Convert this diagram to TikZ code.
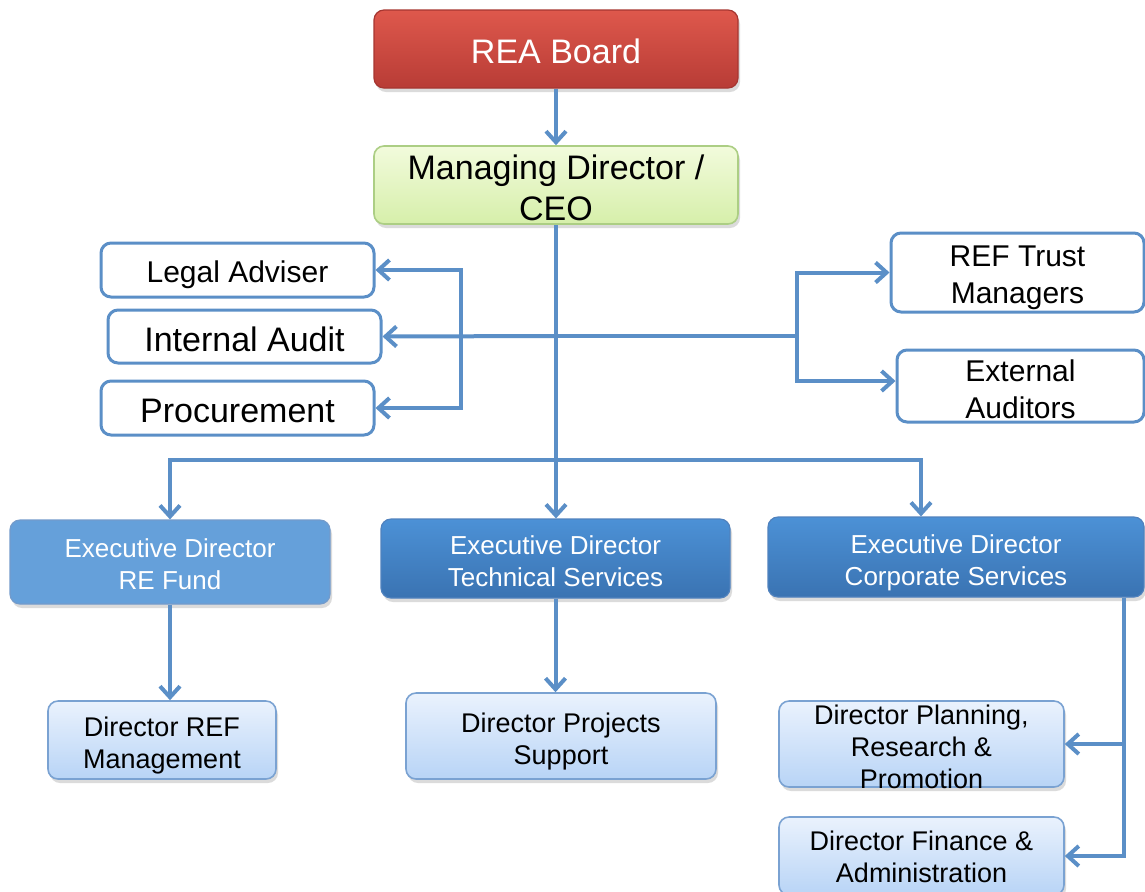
\documentclass[tikz,border=0pt]{standalone}
\usepackage{fontspec}
\setmainfont{Liberation Sans}
\usetikzlibrary{arrows.meta,shadows}
\definecolor{lineblue}{RGB}{91,143,199}
\definecolor{redtop}{RGB}{222,88,76}
\definecolor{redbot}{RGB}{184,60,54}
\definecolor{grntop}{RGB}{242,251,220}
\definecolor{grnbot}{RGB}{214,239,170}
\definecolor{grnline}{RGB}{172,206,132}
\definecolor{edlight}{RGB}{101,160,218}
\definecolor{edtop}{RGB}{76,145,214}
\definecolor{edbot}{RGB}{58,115,178}
\definecolor{edline}{RGB}{80,130,190}
\definecolor{lbtop}{RGB}{234,242,253}
\definecolor{lbbot}{RGB}{184,212,246}
\definecolor{lbline}{RGB}{122,162,210}
\tikzset{
  base/.style={rounded corners=5pt, inner sep=0pt},
  shad/.style={drop shadow={opacity=0.28, shadow xshift=1pt, shadow yshift=-2pt}},
  redbox/.style={base, shad, top color=redtop, bottom color=redbot, draw=redbot!90!black, line width=0.6pt},
  grnbox/.style={base, shad, top color=grntop, bottom color=grnbot, draw=grnline, line width=0.8pt},
  wbox/.style={base, fill=white, draw=lineblue, line width=1.5pt},
  edbox/.style={base, shad, top color=edtop, bottom color=edbot, draw=edline, line width=0.6pt},
  edfbox/.style={base, shad, fill=edlight, draw=edline!80, line width=0.6pt},
  lbbox/.style={base, shad, top color=lbtop, bottom color=lbbot, draw=lbline, line width=0.8pt},
  lb/.style={align=center, inner sep=0pt},
  wt/.style={lb, text=white},
  fbig/.style={font=\fontsize{17}{20.5}\selectfont},
  fmid/.style={font=\fontsize{15}{18.5}\selectfont},
  fed/.style={font=\fontsize{13}{16}\selectfont},
  flow/.style={font=\fontsize{13.5}{16}\selectfont},
  line/.style={draw=lineblue, line width=2pt},
  conn/.style={line, -{Straight Barb[length=5.5pt,width=10pt]}},
}
\begin{document}
\begin{tikzpicture}[x={(0.5pt,0)}, y={(0,-0.5pt)}]
\useasboundingbox (0,0) rectangle (1145,891);
\clip (0,0) rectangle (1145,891);
\fill[white] (0,0) rectangle (1145,891);

% nodes
\node[redbox, minimum width=182pt, minimum height=39pt,
  label={[wt, fbig, yshift=-1pt]center:{REA Board}}] (rea) at (556,49) {};
\node[grnbox, minimum width=182pt, minimum height=39pt,
  label={[lb, fbig, yshift=-1.5pt]center:{Managing Director /\\CEO}}] (md) at (556,185) {};

\node[wbox, minimum width=136.5pt, minimum height=27pt,
  label={[lb, fmid, yshift=-2.5pt]center:{Legal Adviser}}] (la) at (237.5,270) {};
\node[wbox, minimum width=136.5pt, minimum height=26.5pt,
  label={[lb, fbig, yshift=-1.5pt]center:{Internal Audit}}] (ia) at (244.5,336.5) {};
\node[wbox, minimum width=136.5pt, minimum height=27pt,
  label={[lb, fbig, yshift=-1.5pt]center:{Procurement}}] (pr) at (237.5,408) {};

\node[wbox, minimum width=126.5pt, minimum height=39.5pt,
  label={[lb, fmid, yshift=-2.5pt]center:{REF Trust\\Managers}}] (rt) at (1017.5,272.5) {};
\node[wbox, minimum width=123.5pt, minimum height=36pt,
  label={[lb, fmid, yshift=-1.5pt]center:{External\\Auditors}}] (ea) at (1020.5,386) {};

\node[edfbox, minimum width=160pt, minimum height=42pt,
  label={[wt, fed, yshift=-1.2pt]center:{Executive Director\\RE Fund}}] (edf) at (170,562) {};
\node[edbox, minimum width=174.5pt, minimum height=39.5pt,
  label={[wt, fed, yshift=-1.5pt]center:{Executive Director\\Technical Services}}] (edt) at (555.5,558.5) {};
\node[edbox, minimum width=188pt, minimum height=40pt,
  label={[wt, fed, yshift=-3pt]center:{Executive Director\\Corporate Services}}] (edc) at (956,557) {};

\node[lbbox, minimum width=114pt, minimum height=39pt,
  label={[lb, flow, yshift=-2.5pt]center:{Director REF\\Management}}] (drm) at (162,740) {};
\node[lbbox, minimum width=155pt, minimum height=43pt,
  label={[lb, flow, yshift=-2.7pt]center:{Director Projects\\Support}}] (dps) at (561,736) {};
\node[lbbox, minimum width=142.5pt, minimum height=43pt,
  label={[lb, flow, yshift=-1.5pt]center:{Director Planning,\\Research \&\\Promotion}}] (plan) at (921.5,744) {};
\node[lbbox, minimum width=142.5pt, minimum height=39pt,
  label={[lb, flow, yshift=-0.5pt]center:{Director Finance \&\\Administration}}] (fin) at (921.5,856) {};

% junction points
\coordinate (busC) at (556,460);
\coordinate (busR) at (921,460);
\coordinate (hub) at (556,336);
\coordinate (brL) at (461,336);
\coordinate (brR) at (797,336);
\coordinate (csx) at (1124,597);

% connectors
\draw[conn] (rea.south) -- (md.north);
\draw[conn] (md.south) -- (md.south |- edt.north);
\draw[conn] (busC) -| (edf.north);
\draw[conn] (busC) -- (busR) -- (busR |- edc.north);
\draw[conn] (hub) -- (ia.east);
\draw[conn] (brL) |- (la.east);
\draw[conn] (brL) |- (pr.east);
\draw[line] (hub) -- (brR);
\draw[conn] (brR) |- (rt.west);
\draw[conn] (brR) |- ([yshift=2.5pt]ea.west);
\draw[conn] (edf.south) -- (edf.south |- drm.north);
\draw[conn] (edt.south) -- (edt.south |- dps.north);
\draw[conn] (edc.south -| csx) |- (plan.east);
\draw[conn] (edc.south -| csx) |- (fin.east);
\end{tikzpicture}
\end{document}
